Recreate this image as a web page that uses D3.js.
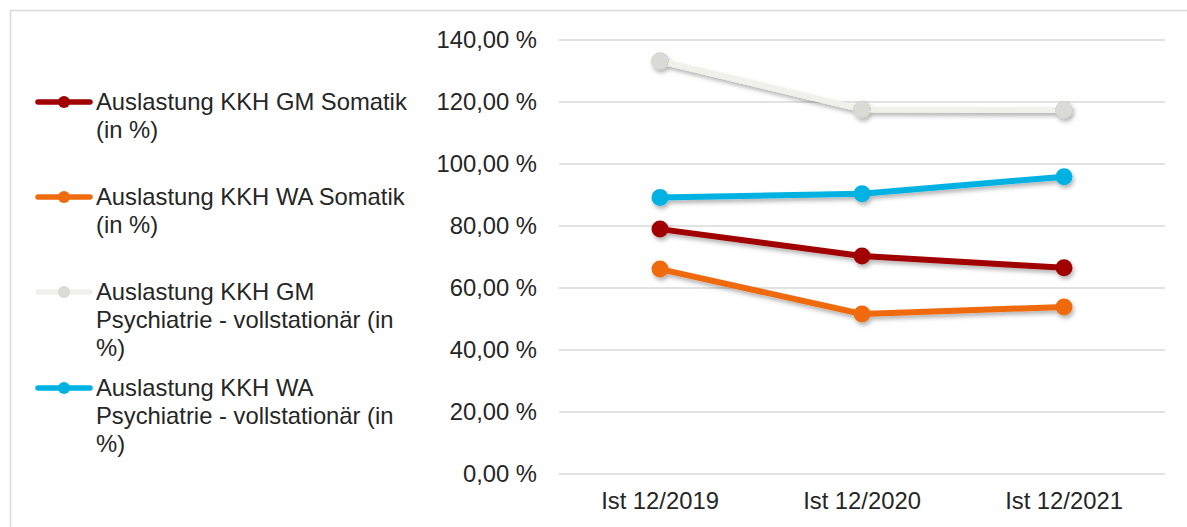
<!DOCTYPE html>
<html>
<head>
<meta charset="utf-8">
<script src="https://cdn.jsdelivr.net/npm/d3@7"></script>
<style>
  body { margin: 0; background: #fff; }
  svg { display: block; font-family: Arial, 'Liberation Sans', sans-serif; }
  .axis text { fill: #262626; font-size: 23.8px; }
  .legend text { fill: #262626; font-size: 23.8px; }
</style>
</head>
<body>
<svg id="chart" width="1187" height="527"></svg>
<script>
const categories = ['Ist 12/2019', 'Ist 12/2020', 'Ist 12/2021'];
const yTicks = [0, 20, 40, 60, 80, 100, 120, 140];

const gmSomatik = [79.0, 70.3, 66.5];
const waSomatik = [66.1, 51.6, 53.9];
const gmPsych = [133.2, 117.6, 117.4];
const waPsych = [89.2, 90.4, 95.9];

const seriesNames = [
  ['Auslastung KKH GM Somatik', '(in %)'],
  ['Auslastung KKH WA Somatik', '(in %)'],
  ['Auslastung KKH GM', 'Psychiatrie - vollstationär (in', '%)'],
  ['Auslastung KKH WA', 'Psychiatrie - vollstationär (in', '%)'],
];

const series = [
  { values: gmSomatik, line: '#A00000', dot: '#A00000' },
  { values: waSomatik, line: '#EE6B0E', dot: '#EE6B0E' },
  { values: gmPsych, line: '#F1F1EC', dot: '#DADAD6', edge: '#BDBDB8' },
  { values: waPsych, line: '#00B2E2', dot: '#00B2E2' },
];

const width = 1187, height = 527;
const margin = { top: 40, right: 22, bottom: 53, left: 559 };

const chart = d3.select('#chart');

// drop shadow like the office chart
const defs = chart.append('defs');
const f = defs.append('filter').attr('id', 'shadow')
  .attr('x', '-20%').attr('y', '-50%').attr('width', '140%').attr('height', '200%');
f.append('feDropShadow').attr('dx', 1.5).attr('dy', 3).attr('stdDeviation', 2)
  .attr('flood-color', '#000').attr('flood-opacity', 0.3);

// outer frame
chart.append('rect')
  .attr('x', 10.5).attr('y', 10.5)
  .attr('width', width + 20).attr('height', height + 20)
  .attr('fill', 'none').attr('stroke', '#D9D9D9').attr('stroke-width', 1.5);

const xScale = d3.scaleBand()
  .domain(categories)
  .range([margin.left, width - margin.right]);

const yScale = d3.scaleLinear()
  .domain([0, 140])
  .range([height - margin.bottom, margin.top]);

// gridlines
chart.append('g')
  .selectAll('line')
  .data(yTicks)
  .enter()
  .append('line')
  .attr('x1', margin.left)
  .attr('x2', width - margin.right)
  .attr('y1', (d) => yScale(d))
  .attr('y2', (d) => yScale(d))
  .attr('stroke', '#D9D9D9')
  .attr('stroke-width', 1.5);

const yAxis = (g) => g
  .attr('transform', `translate(${margin.left - 19},0)`)
  .call(d3.axisLeft(yScale).tickValues(yTicks).tickSize(0)
    .tickFormat((d) => d3.format('.2f')(d).replace('.', ',') + ' %'))
  .call((g) => g.select('.domain').remove());

const xAxis = (g) => g
  .attr('transform', `translate(0,${height - margin.bottom})`)
  .call(d3.axisBottom(xScale).tickSize(0).tickPadding(18))
  .call((g) => g.select('.domain').remove());

chart.append('g').attr('class', 'y-axis axis').call(yAxis);
chart.append('g').attr('class', 'x-axis axis').call(xAxis);
chart.selectAll('.axis text').attr('font-family', null).attr('font-size', null);

const cx = (i) => xScale(categories[i]) + xScale.bandwidth() / 2;

const line = d3.line()
  .x((d, i) => cx(i))
  .y((d) => yScale(d));

series.forEach((s) => {
  const g = chart.append('g').attr('filter', 'url(#shadow)');
  g.append('path')
    .datum(s.values)
    .attr('d', line)
    .attr('fill', 'none')
    .attr('stroke', s.line)
    .attr('stroke-width', 6)
    .attr('stroke-linejoin', 'round');
  g.selectAll('.dot')
    .data(s.values)
    .enter()
    .append('circle')
    .attr('class', 'dot')
    .attr('cx', (d, i) => cx(i))
    .attr('cy', (d) => yScale(d))
    .attr('r', 8.5)
    .attr('fill', s.dot)
    .attr('stroke', s.edge || 'none')
    .attr('stroke-width', s.edge ? 0.8 : 0)
    .attr('stroke-dasharray', s.edge ? '1.5,1.5' : null);
});

// legend
const legendY = [102, 197, 292, 388];
const legend = chart.append('g').attr('class', 'legend');
series.forEach((s, i) => {
  const y = legendY[i];
  legend.append('line')
    .attr('x1', 38).attr('x2', 90).attr('y1', y).attr('y2', y)
    .attr('stroke', s.line).attr('stroke-width', 5.5).attr('stroke-linecap', 'round');
  legend.append('circle')
    .attr('cx', 64).attr('cy', y).attr('r', 6).attr('fill', s.dot);
  const t = legend.append('text').attr('x', 96).attr('y', y + 8);
  seriesNames[i].forEach((ln, j) => {
    t.append('tspan').attr('x', 96).attr('dy', j === 0 ? 0 : 28).text(ln);
  });
});
</script>
</body>
</html>
